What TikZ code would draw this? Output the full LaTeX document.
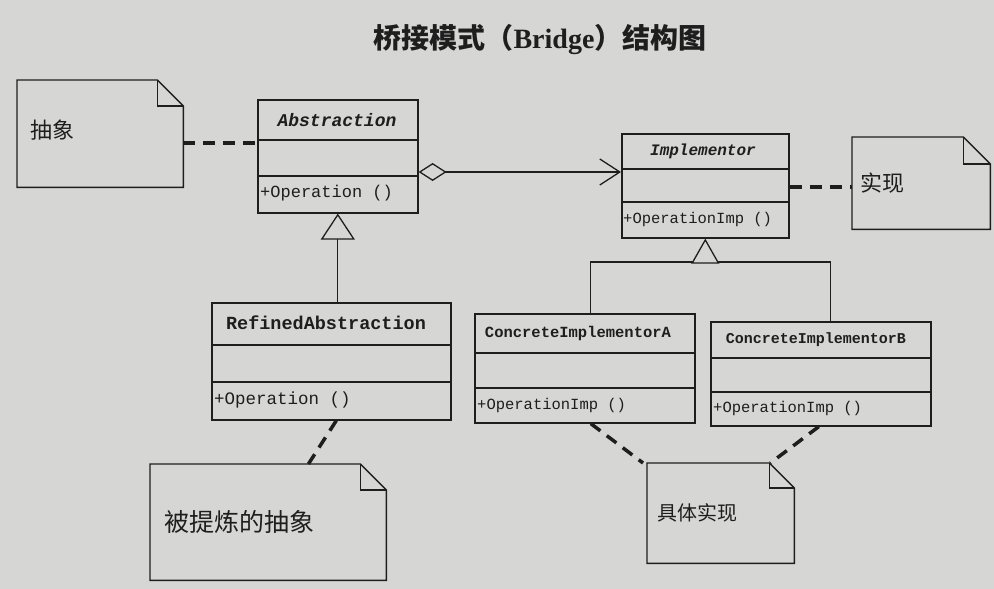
\documentclass[tikz,border=0pt]{standalone}
\usepackage{fontspec}
\setmainfont{Liberation Serif}
\setmonofont{Liberation Mono}
\newfontfamily\cjk{Noto Sans CJK SC}
\usetikzlibrary{arrows.meta,calc}
\definecolor{bg}{HTML}{D6D6D4}
\definecolor{ink}{HTML}{1E1E1E}
\newcommand\drawnote[2]{%
  \draw[ink,line width=1.4pt,line join=miter] (#1.north west) -- ([xshift=-#2]#1.north east) -- ([yshift=-#2]#1.north east) -- (#1.south east) -- (#1.south west) -- cycle;
  \draw[ink,line width=1.4pt] ([xshift=-#2]#1.north east) |- ([yshift=-#2]#1.north east);}
\begin{document}
\begin{tikzpicture}[x=1pt,y=-1pt,
  classbox/.style={draw=ink, line width=1.6pt, anchor=north west, inner sep=0pt},
  notebox/.style={anchor=north west, inner sep=0pt},
  sepline/.style={draw=ink, line width=1.4pt},
  notelink/.style={draw=ink, line width=3.5pt, dash pattern=on 12pt off 8pt},
  cname/.style={font=\ttfamily\bfseries\fontsize{#1}{#1}\selectfont, text=ink, inner sep=0pt},
  opname/.style={font=\ttfamily\fontsize{#1}{#1}\selectfont, text=ink, anchor=west, inner sep=0pt},
  notetext/.style={font=\cjk\fontsize{#1}{#1}\selectfont, text=ink, anchor=west, inner sep=0pt},
  conn/.style={draw=ink, line width=1.3pt}
]
\fill[bg] (0,0) rectangle (994,589);
\useasboundingbox (0,0) rectangle (994,589);

% title
\node[text=ink, inner sep=0pt] (title) at (540,40)
  {\cjk\bfseries\fontsize{28}{28}\selectfont 桥接模式（{\rmfamily\bfseries Bridge}）结构图};

% Abstraction
\node[classbox, minimum width=160pt, minimum height=113pt] (abs) at (257,99) {};
\draw[sepline] (abs.west |- 0,140) -- (abs.east |- 0,140);
\draw[sepline] (abs.west |- 0,176) -- (abs.east |- 0,176);
\node[cname=18, font=\ttfamily\bfseries\itshape\fontsize{18}{18}\selectfont] (absname) at (337,120) {Abstraction};
\node[opname=17] (absop) at (260,193) {+Operation ()};

% Implementor
\node[classbox, minimum width=167pt, minimum height=104pt] (impl) at (621,133) {};
\draw[sepline] (impl.west |- 0,169) -- (impl.east |- 0,169);
\draw[sepline] (impl.west |- 0,202) -- (impl.east |- 0,202);
\node[cname=16, font=\ttfamily\bfseries\itshape\fontsize{16}{16}\selectfont] (implname) at (703,151) {Implementor};
\node[opname=15.5] (implop) at (623,219) {+OperationImp ()};

% RefinedAbstraction
\node[classbox, minimum width=239pt, minimum height=117pt] (ref) at (211,302) {};
\draw[sepline] (ref.west |- 0,345) -- (ref.east |- 0,345);
\draw[sepline] (ref.west |- 0,382) -- (ref.east |- 0,382);
\node[cname=18.5] (refname) at (326,323) {RefinedAbstraction};
\node[opname=17.5] (refop) at (214,400) {+Operation ()};

% ConcreteImplementorA
\node[classbox, minimum width=220pt, minimum height=109pt] (ca) at (474,313) {};
\draw[sepline] (ca.west |- 0,353) -- (ca.east |- 0,353);
\draw[sepline] (ca.west |- 0,388) -- (ca.east |- 0,388);
\node[cname=15.5] (caname) at (578,333) {ConcreteImplementorA};
\node[opname=15.5] (caop) at (477,405) {+OperationImp ()};

% ConcreteImplementorB
\node[classbox, minimum width=220pt, minimum height=104pt] (cb) at (710,321) {};
\draw[sepline] (cb.west |- 0,358) -- (cb.east |- 0,358);
\draw[sepline] (cb.west |- 0,392) -- (cb.east |- 0,392);
\node[cname=15] (cbname) at (816,340) {ConcreteImplementorB};
\node[opname=15.5] (cbop) at (713,408) {+OperationImp ()};

% Notes
\node[notebox, minimum width=166pt, minimum height=107pt] (n1) at (17,80) {};
\drawnote{n1}{26pt}
\node[notetext=22] (n1t) at (30,130) {抽象};

\node[notebox, minimum width=138pt, minimum height=92pt] (n2) at (852,137) {};
\drawnote{n2}{27pt}
\node[notetext=22] (n2t) at (860,183) {实现};

\node[notebox, minimum width=236pt, minimum height=116pt] (n3) at (150,464) {};
\drawnote{n3}{26pt}
\node[notetext=25] (n3t) at (164,522) {被提炼的抽象};

\node[notebox, minimum width=147pt, minimum height=100pt] (n4) at (647,463) {};
\drawnote{n4}{25pt}
\node[notetext=20] (n4t) at (657,513) {具体实现};

% association with aggregation diamond
\draw[conn, {Diamond[open,fill=bg,length=28pt,width=18pt]}-{Straight Barb[length=20pt,width=26pt]}]
  (abs.east |- 0,172) -- (impl.west |- 0,172);

% generalization Refined -> Abstraction
\draw[conn, -{Triangle[open,fill=bg,length=26pt,width=34pt]}] (ref.north -| abs.south) -- (abs.south);

% generalization concrete -> Implementor
\coordinate (bus) at (impl.south |- 0,262);
\draw[conn] ([xshift=6pt]ca.north) |- (bus) -| ([xshift=10pt]cb.north);
\draw[conn, -{Triangle[open,fill=bg,length=25pt,width=28pt]}] (bus) -- (impl.south);

% note links
\draw[notelink] (n1.east |- 0,143) -- (abs.west |- 0,143);
\draw[notelink] (impl.east |- 0,187) -- (n2.west |- 0,187);
\draw[notelink] ([xshift=5pt]ref.south) -- ($(n3.north east)+(-78,0)$);
\draw[notelink] ([xshift=6pt]ca.south) -- ([xshift=-4pt]n4.north west);
\draw[notelink] ([xshift=-2pt]cb.south) -- ([xshift=-24pt]n4.north east);
\end{tikzpicture}
\end{document}
